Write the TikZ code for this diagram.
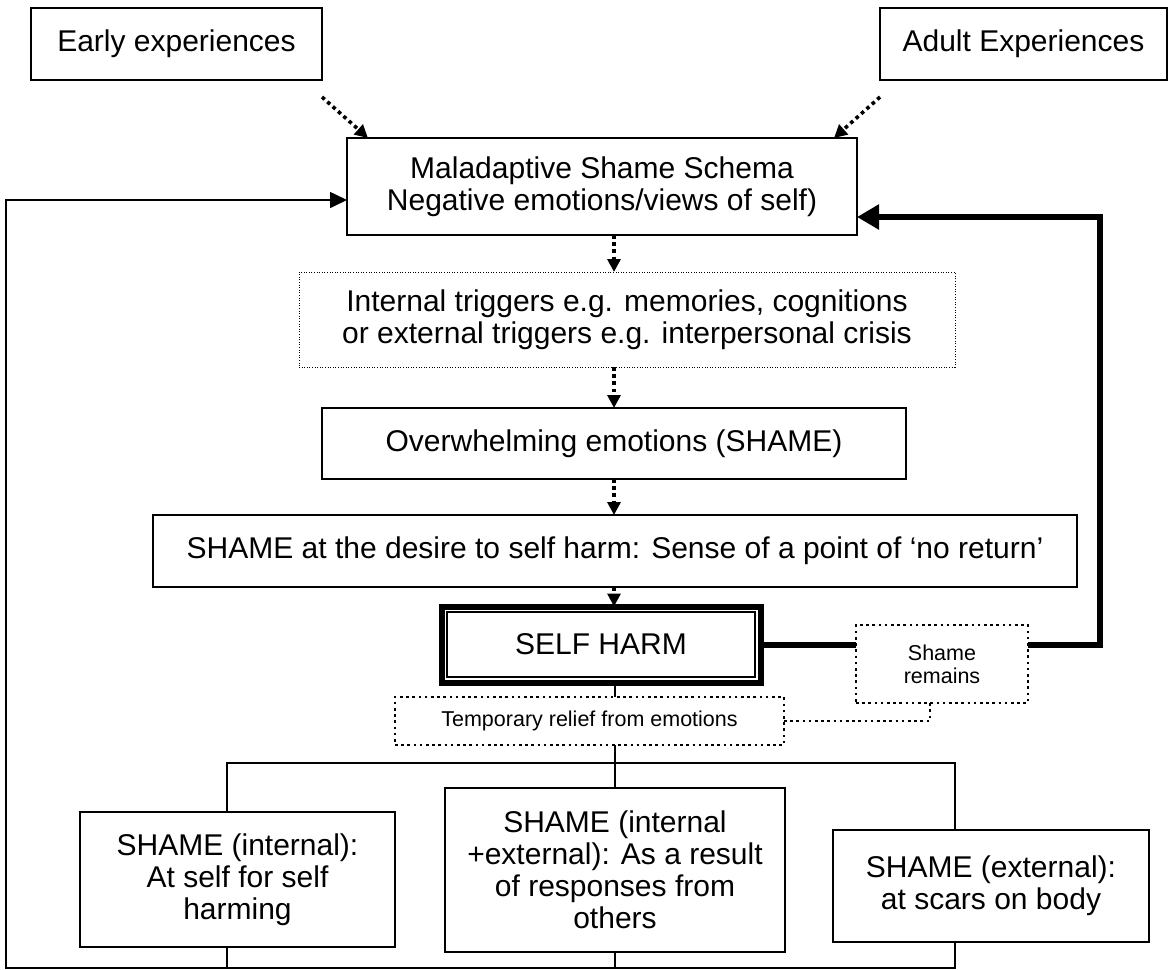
\documentclass[tikz,border=0pt]{standalone}
\usepackage{fontspec}
\setmainfont{Liberation Sans}
\usetikzlibrary{arrows.meta,fit}
\pgfdeclarelayer{background}
\pgfsetlayers{background,main}
\tikzset{
  shamepic/.style={
    x=1pt,y=-1pt
    ,inner sep=0pt
    ,outer sep=0pt
    ,font=\fontsize{30}{32}\selectfont
  }
  ,bx/.style={draw,line width=1.6pt,fill=white,align=center}
  ,dotbx/.style={bx,line width=1pt,dash pattern=on 1pt off 1.6pt}
  ,smalldotbx/.style={bx,line width=2.6pt,dash pattern=on 2.6pt off 3.6pt
    ,font=\fontsize{21.5}{23}\selectfont}
  ,harmbx/.style={bx,line width=1.3pt}
  ,harmframe/.style={draw,line width=6pt,inner sep=5.5pt}
  ,dotarrow/.style={line width=3.6pt,dash pattern=on 3.6pt off 3.6pt
    ,-{Triangle[length=13pt,width=13pt]}}
  ,link/.style={line width=1.6pt}
  ,thinarrow/.style={link,-{Triangle[length=17pt,width=16pt]}}
  ,thickline/.style={line width=6pt}
  ,thickarrow/.style={thickline,-{Triangle[length=22pt,width=24pt]}}
  ,dotline/.style={line width=2.6pt,dash pattern=on 2.6pt off 3.6pt}
}
\begin{document}
\begin{tikzpicture}[shamepic]
  \useasboundingbox (0,0) rectangle (1171,970);
  % top row
  \node[bx,minimum width=291pt,minimum height=72pt] (early) at (176.5,44) {Early experiences};
  \node[bx,minimum width=287pt,minimum height=72pt] (adult) at (1023.5,44) {Adult Experiences};
  \node[bx,minimum width=510pt,minimum height=97pt] (schema) at (602,186.5)
    {Maladaptive Shame Schema\\Negative emotions/views of self)};
  % chain
  \node[dotbx,minimum width=656pt,minimum height=95pt] (triggers) at (627,319.5)
    {Internal triggers e.g. memories, cognitions\\or external triggers e.g. interpersonal crisis};
  \node[bx,minimum width=584pt,minimum height=71pt] (overwhelm) at (614,443.5)
    {Overwhelming emotions (SHAME)};
  \node[bx,minimum width=924pt,minimum height=72pt] (desire) at (615,551)
    {SHAME at the desire to self harm: Sense of a point of ‘no return’};
  \node[harmbx,minimum width=308pt,minimum height=65pt] (harm) at (601,644.5) {SELF HARM};
  \begin{pgfonlayer}{background}
    \node[harmframe,fit=(harm)] (harmbox) {};
  \end{pgfonlayer}
  \node[smalldotbx,minimum width=172pt,minimum height=78pt] (remains) at (942,664)
    {Shame\\remains};
  \node[smalldotbx,minimum width=389pt,minimum height=48pt] (relief) at (589.5,721)
    {Temporary relief from emotions};
  % outcomes
  \node[bx,minimum width=315pt,minimum height=135pt] (shint) at (237.5,879.5)
    {SHAME (internal):\\At self for self\\harming};
  \node[bx,minimum width=340pt,minimum height=164pt] (shboth) at (615,870)
    {SHAME (internal\\+external): As a result\\of responses from\\others};
  \node[bx,minimum width=316pt,minimum height=112pt] (shext) at (991,886)
    {SHAME (external):\\at scars on body};
  \coordinate (lturn) at (6,968);
  \coordinate (rturn) at (1100,217);
  \coordinate (brL) at (227,763);
  \coordinate (brR) at (955,763);
  \coordinate (schemaL) at ([yshift=-13.5pt]schema.west);
  \coordinate (schemaR) at ([yshift=-30.5pt]schema.east);
  % arrows
  \draw[dotarrow] ([yshift=-17pt]early.south east) -- ([xshift=21pt]schema.north west);
  \draw[dotarrow] ([yshift=-17pt]adult.south west) -- ([xshift=-23pt]schema.north east);
  \draw[dotarrow] (schema.south -| overwhelm) -- (triggers.north -| overwhelm);
  \draw[dotarrow] (triggers.south -| overwhelm) -- (overwhelm.north);
  \draw[dotarrow] (overwhelm.south) -- (desire.north -| overwhelm);
  \draw[dotarrow] (desire.south -| overwhelm) -- (harmbox.north -| overwhelm);
  \draw[thickline] (harmbox.east) -- (harmbox.east -| remains.west);
  \draw[thickarrow] (remains.east |- harmbox.east) -| (rturn) -- (schemaR);
  \draw[link] (harmbox.south -| shboth) -- (relief.north -| shboth);
  \draw[link] (relief.south -| shboth) -- (shboth.north);
  \draw[dotline] (relief.east) -| ([xshift=-12pt]remains.south);
  \draw[link] (brL |- shint.north) |- (brR) -- (brR |- shext.north);
  \draw[link] (shint.south -| brL) -- (brL |- lturn);
  \draw[link] (shboth.south) -- (shboth.south |- lturn);
  \draw[thinarrow] (shext.south -| brR) -- (brR |- lturn) -- (lturn) |- (schemaL);
\end{tikzpicture}
\end{document}
